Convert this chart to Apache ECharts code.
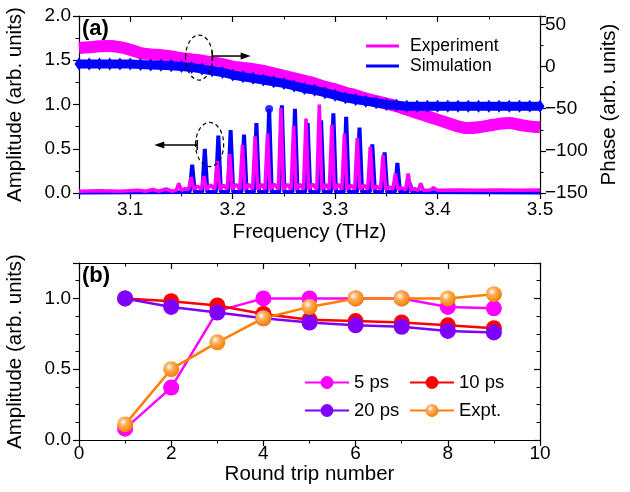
<!DOCTYPE html>
<html lang="en" style="height: 100%">
<head>
  <meta charset="utf-8">
</head>
<body style="height: 100%; margin: 0; background: #fff">
  <div id="container" style="width: 630px; height: 492px"></div>

  <script type="text/javascript" src="https://cdn.jsdelivr.net/npm/echarts@6/dist/echarts.min.js"></script>
  <script type="text/javascript">
// ---- panel (a): phase, right axis ----
var phaseFreq = [3.05, 3.06, 3.07, 3.08, 3.09, 3.10, 3.11, 3.12, 3.13, 3.14,
  3.15, 3.16, 3.17, 3.18, 3.19, 3.20, 3.21, 3.22, 3.23, 3.24,
  3.25, 3.26, 3.27, 3.28, 3.29, 3.30, 3.31, 3.32, 3.33, 3.34,
  3.35, 3.36, 3.37, 3.38, 3.39, 3.40, 3.41, 3.42, 3.43, 3.44,
  3.45, 3.46, 3.47, 3.48, 3.49, 3.50];
var expPhase = [22, 23, 24, 24.5, 23, 20, 16, 14.5, 13.5, 12,
  10, 8.5, 7, 5, 3, 0, -1.5, -3, -5, -8,
  -11, -14, -17, -20, -24, -27, -31, -34, -38, -41,
  -44, -47, -51, -55, -59, -63, -67, -71, -73, -72,
  -70, -68, -67, -69, -71, -72];
var simPhase = [3, 3, 3, 3, 3, 3, 2.5, 2, 1.5, 1,
  0, -1, -3, -5, -7, -10, -12, -14, -16, -18,
  -20, -23, -26, -28, -31, -34, -37, -39, -41, -43,
  -45, -46, -47, -47, -47, -47, -47, -47, -47, -47,
  -47, -47, -47, -47, -47, -47];

// ---- panel (a): amplitude spectra, left axis, [THz, amplitude] ----
var simSpectrum = [
  [3.05, 0.005], [3.158, 0.01], [3.1605, 0.32], [3.163, 0.01],
  [3.1703, 0.01], [3.1728, 0.50], [3.1753, 0.01],
  [3.1835, 0.01], [3.186, 0.65], [3.1885, 0.01],
  [3.1955, 0.01], [3.198, 0.71], [3.2005, 0.01],
  [3.2086, 0.01], [3.2111, 0.66], [3.2136, 0.01],
  [3.2207, 0.01], [3.2232, 0.79], [3.2257, 0.01],
  [3.2331, 0.01], [3.2356, 0.95], [3.2381, 0.01],
  [3.2455, 0.01], [3.248, 0.99], [3.2505, 0.01],
  [3.2583, 0.01], [3.2608, 0.95], [3.2633, 0.01],
  [3.2707, 0.01], [3.2732, 0.79], [3.2757, 0.01],
  [3.2838, 0.01], [3.2863, 0.82], [3.2888, 0.01],
  [3.2958, 0.01], [3.2983, 0.90], [3.3008, 0.01],
  [3.3083, 0.01], [3.3108, 0.86], [3.3133, 0.01],
  [3.3213, 0.01], [3.3238, 0.74], [3.3263, 0.01],
  [3.3338, 0.01], [3.3363, 0.55], [3.3388, 0.01],
  [3.3458, 0.01], [3.3483, 0.46], [3.3508, 0.01],
  [3.3583, 0.01], [3.3608, 0.34], [3.3633, 0.01],
  [3.3704, 0.01], [3.3729, 0.11], [3.3754, 0.01], [3.5, 0.005]
];
var simDotIndex = 20;   // the peak drawn with a dot
var expSpectrum = [
  [3.05, 0.02], [3.07, 0.025], [3.09, 0.02], [3.108, 0.03], [3.115, 0.02],
  [3.122, 0.04], [3.128, 0.02], [3.135, 0.045], [3.141, 0.02],
  [3.1449, 0.03], [3.1474, 0.11], [3.1499, 0.03], [3.1535, 0.05],
  [3.157, 0.04], [3.1595, 0.18], [3.162, 0.04], [3.1657, 0.08],
  [3.1694, 0.04], [3.1719, 0.19], [3.1744, 0.04], [3.1785, 0.09],
  [3.1825, 0.04], [3.185, 0.36], [3.1875, 0.04], [3.191, 0.09],
  [3.1946, 0.04], [3.1971, 0.44], [3.1996, 0.04], [3.2033, 0.10],
  [3.207, 0.04], [3.2095, 0.54], [3.212, 0.04], [3.2157, 0.10],
  [3.2194, 0.04], [3.2219, 0.64], [3.2244, 0.04], [3.228, 0.10],
  [3.2315, 0.04], [3.234, 0.67], [3.2365, 0.04], [3.2405, 0.10],
  [3.2446, 0.04], [3.2471, 0.96], [3.2496, 0.04], [3.2533, 0.10],
  [3.257, 0.04], [3.2595, 0.76], [3.262, 0.04], [3.2655, 0.10],
  [3.2691, 0.04], [3.2716, 0.84], [3.2741, 0.04], [3.278, 0.10],
  [3.2821, 0.04], [3.2846, 1.00], [3.2871, 0.04], [3.2907, 0.10],
  [3.2943, 0.04], [3.2968, 0.77], [3.2993, 0.04], [3.303, 0.10],
  [3.3066, 0.04], [3.3091, 0.67], [3.3116, 0.04], [3.3153, 0.09],
  [3.3191, 0.04], [3.3216, 0.62], [3.3241, 0.04], [3.328, 0.09],
  [3.3318, 0.04], [3.3343, 0.52], [3.3368, 0.04], [3.3405, 0.08],
  [3.3443, 0.04], [3.3468, 0.43], [3.3493, 0.04], [3.353, 0.07],
  [3.3563, 0.04], [3.3588, 0.22], [3.3613, 0.04], [3.365, 0.06],
  [3.3688, 0.035], [3.3713, 0.22], [3.3738, 0.035], [3.3775, 0.05],
  [3.3811, 0.03], [3.3836, 0.11], [3.3861, 0.03],
  [3.393, 0.035], [3.396, 0.06], [3.40, 0.03], [3.42, 0.035], [3.44, 0.03],
  [3.46, 0.035], [3.48, 0.03], [3.5, 0.035]
];

// ---- panel (b) ----
var roundTrip = [1, 2, 3, 4, 5, 6, 7, 8, 9];
var amp5ps  = [0.08, 0.37, 0.91, 1.00, 1.00, 1.00, 1.00, 0.94, 0.93];
var amp10ps = [1.00, 0.98, 0.95, 0.89, 0.85, 0.84, 0.83, 0.81, 0.79];
var amp20ps = [1.00, 0.94, 0.90, 0.86, 0.83, 0.81, 0.80, 0.77, 0.76];
var ampExpt = [0.11, 0.50, 0.69, 0.86, 0.94, 1.00, 1.00, 1.00, 1.03];

// annotations (data units)
var phaseRing = { f: 3.1672, v: 10.7, rf: 0.0132, rv: 26.7 };
var phaseArrow = { from: 3.180, to: 3.2176, v: 12.5 };
var ampRing = { f: 3.1775, v: 0.548, rf: 0.0137, rv: 0.249 };
var ampArrow = { from: 3.1654, to: 3.1235, v: 0.542 };

var FONT = 'Liberation Sans, Arial, sans-serif';
var MAGENTA = '#ff00ff', BLUE = '#0000ff';

function zip(xs, ys) {
  return xs.map(function (x, i) { return [x, ys[i]]; });
}

var axisLine = { onZero: false, lineStyle: { color: '#000', width: 1.2 } };
function ticks(inside) {
  return { show: true, inside: inside, length: 6, lineStyle: { color: '#000', width: 1.2 } };
}
function minor(inside, n) {
  return { show: true, splitNumber: n, length: 3.5, lineStyle: { color: '#000', width: 1 } };
}
var label = { color: '#000', fontSize: 19, fontFamily: FONT };
var nameStyle = { color: '#000', fontSize: 20.5, fontFamily: FONT };

var dom = document.getElementById('container');
var myChart = echarts.init(dom, null, { renderer: 'canvas' });

var expBall = {
  type: 'radial', x: 0.38, y: 0.35, r: 0.65,
  colorStops: [
    { offset: 0, color: '#ffffff' },
    { offset: 0.35, color: '#ffb060' },
    { offset: 1, color: '#f57f00' }
  ]
};

var option = {
  animation: false,
  backgroundColor: '#fff',
  textStyle: { fontFamily: FONT },
  grid: [
    { left: 79, right: 90, top: 16, height: 177, containLabel: false, outerBoundsMode: 'none' },
    { left: 79, right: 90, top: 263, height: 177, containLabel: false, outerBoundsMode: 'none' }
  ],
  xAxis: [
    {
      type: 'value', gridIndex: 0, min: 3.05, max: 3.5, splitNumber: 5,
      name: 'Frequency (THz)', nameLocation: 'middle', nameGap: 29, nameTextStyle: nameStyle,
      axisLine: axisLine, axisTick: ticks(false), minorTick: minor(false, 2),
      axisLabel: Object.assign({ margin: 7, showMinLabel: false,
        formatter: function (v) { return v.toFixed(1); } }, label),
      splitLine: { show: false }
    },
    {
      type: 'value', gridIndex: 0, position: 'top', min: 3.05, max: 3.5, splitNumber: 5,
      axisLine: axisLine, axisTick: ticks(true), minorTick: minor(true, 2),
      axisLabel: { show: false }, splitLine: { show: false }
    },
    {
      type: 'value', gridIndex: 1, min: 0, max: 10, interval: 2,
      name: 'Round trip number', nameLocation: 'middle', nameGap: 16, nameTextStyle: nameStyle,
      axisLine: axisLine, axisTick: ticks(false), minorTick: minor(false, 2),
      axisLabel: Object.assign({ margin: 4 }, label), splitLine: { show: false }
    },
    {
      type: 'value', gridIndex: 1, position: 'top', min: 0, max: 10, interval: 2,
      axisLine: axisLine, axisTick: ticks(true), minorTick: minor(true, 2),
      axisLabel: { show: false }, splitLine: { show: false }
    }
  ],
  yAxis: [
    {
      type: 'value', gridIndex: 0, min: 0, max: 2, interval: 0.5,
      name: 'Amplitude (arb. units)', nameLocation: 'middle', nameGap: 53, nameRotate: 90,
      nameTextStyle: nameStyle,
      axisLine: axisLine, axisTick: ticks(false), minorTick: minor(false, 2),
      axisLabel: Object.assign({ margin: 8, formatter: function (v) { return v.toFixed(1); } }, label),
      splitLine: { show: false }
    },
    {
      type: 'value', gridIndex: 0, position: 'right', min: -150, max: 60, interval: 50,
      name: 'Phase (arb. units)', nameLocation: 'middle', nameGap: 55, nameRotate: 90,
      nameTextStyle: nameStyle,
      axisLine: axisLine, axisTick: ticks(false), minorTick: minor(false, 2),
      axisLabel: Object.assign({ margin: 5, showMaxLabel: false,
        formatter: function (v) { return String(v).replace('-', '\u2212'); } }, label),
      splitLine: { show: false }
    },
    {
      type: 'value', gridIndex: 1, min: 0, max: 1.25, interval: 0.5,
      name: 'Amplitude (arb. units)', nameLocation: 'middle', nameGap: 53, nameRotate: 90,
      nameTextStyle: nameStyle,
      axisLine: axisLine, axisTick: ticks(false), minorTick: minor(false, 4),
      axisLabel: Object.assign({ margin: 8, showMaxLabel: false,
        formatter: function (v) { return v.toFixed(1); } }, label),
      splitLine: { show: false }
    },
    {
      type: 'value', gridIndex: 1, position: 'right', min: 0, max: 1.25, interval: 0.5,
      axisLine: axisLine, axisTick: ticks(true), minorTick: minor(true, 4),
      axisLabel: { show: false }, splitLine: { show: false }
    }
  ],
  legend: [
    {
      data: ['Experiment', 'Simulation'], orient: 'vertical', left: 361, top: 32,
      icon: 'rect', itemWidth: 33, itemHeight: 3, itemGap: 2,
      textStyle: { color: '#000', fontSize: 17.5, fontFamily: FONT, padding: [0, 0, 0, 6] }
    },
    {
      data: ['5 ps', '20 ps'], orient: 'vertical', left: 299, top: 368,
      itemWidth: 44, itemHeight: 16, itemGap: 9,
      textStyle: { color: '#000', fontSize: 18.5, fontFamily: FONT }
    },
    {
      data: ['10 ps', 'Expt.'], orient: 'vertical', left: 404, top: 368,
      itemWidth: 44, itemHeight: 16, itemGap: 9,
      textStyle: { color: '#000', fontSize: 18.5, fontFamily: FONT }
    }
  ],
  series: [
    {
      name: 'Experiment phase', type: 'line', xAxisIndex: 0, yAxisIndex: 1,
      data: zip(phaseFreq, expPhase), symbol: 'none', smooth: 0.3,
      lineStyle: { color: MAGENTA, width: 12 }, itemStyle: { color: MAGENTA }, z: 2
    },
    {
      name: 'Simulation phase', type: 'line', xAxisIndex: 0, yAxisIndex: 1,
      data: zip(phaseFreq, simPhase), symbol: 'diamond', symbolSize: [9, 13],
      lineStyle: { color: BLUE, width: 9 }, itemStyle: { color: BLUE }, z: 3
    },
    {
      name: 'Simulation', type: 'line', xAxisIndex: 0, yAxisIndex: 0,
      data: simSpectrum, symbol: 'none',
      lineStyle: { color: BLUE, width: 4 }, itemStyle: { color: BLUE }, z: 4
    },
    {
      name: 'Experiment', type: 'line', xAxisIndex: 0, yAxisIndex: 0,
      data: expSpectrum, symbol: 'none',
      lineStyle: { color: MAGENTA, width: 3.5 }, itemStyle: { color: MAGENTA }, z: 5
    },
    {
      name: 'dot', type: 'scatter', xAxisIndex: 0, yAxisIndex: 0,
      data: [simSpectrum[simDotIndex]], symbolSize: 8,
      itemStyle: { color: BLUE }, z: 4
    },
    {
      name: '5 ps', type: 'line', xAxisIndex: 2, yAxisIndex: 2,
      data: zip(roundTrip, amp5ps), symbol: 'circle', symbolSize: 16,
      lineStyle: { color: MAGENTA, width: 2.5 }, itemStyle: { color: MAGENTA }
    },
    {
      name: '10 ps', type: 'line', xAxisIndex: 2, yAxisIndex: 2,
      data: zip(roundTrip, amp10ps), symbol: 'circle', symbolSize: 16,
      lineStyle: { color: '#ff0000', width: 2.5 }, itemStyle: { color: '#ff0000' }
    },
    {
      name: '20 ps', type: 'line', xAxisIndex: 2, yAxisIndex: 2,
      data: zip(roundTrip, amp20ps), symbol: 'circle', symbolSize: 16,
      lineStyle: { color: '#7f00ff', width: 2.5 }, itemStyle: { color: '#7f00ff' }
    },
    {
      name: 'Expt.', type: 'line', xAxisIndex: 2, yAxisIndex: 2,
      data: zip(roundTrip, ampExpt), symbol: 'circle', symbolSize: 16,
      lineStyle: { color: '#ff8000', width: 2.5 }, itemStyle: { color: expBall }
    }
  ],
  graphic: [
    { type: 'text', left: 82, top: 18, style: { text: '(a)', font: 'bold 22px ' + FONT, fill: '#000' } },
    { type: 'text', left: 82, top: 265, style: { text: '(b)', font: 'bold 22px ' + FONT, fill: '#000' } }
  ]
};

myChart.setOption(option);

// dashed rings and arrows, placed from data coordinates
function px(f) { return myChart.convertToPixel({ xAxisIndex: 0 }, f); }
function pyL(v) { return myChart.convertToPixel({ yAxisIndex: 0 }, v); }
function pyR(v) { return myChart.convertToPixel({ yAxisIndex: 1 }, v); }

function ring(m, py) {
  var cx = px(m.f), cy = py(m.v);
  return {
    type: 'ellipse',
    shape: { cx: cx, cy: cy, rx: px(m.f + m.rf) - cx, ry: cy - py(m.v + m.rv) },
    style: { fill: 'none', stroke: '#000', lineWidth: 1.2, lineDash: [4, 3] }, z: 20
  };
}
function arrow(a, py) {
  var x1 = px(a.from), x2 = px(a.to), y = py(a.v), dir = x2 > x1 ? 1 : -1;
  return [
    { type: 'line', shape: { x1: x1, y1: y, x2: x2 - dir * 7, y2: y },
      style: { stroke: '#000', lineWidth: 1.5 }, z: 20 },
    { type: 'line', shape: { x1: x1, y1: y - 5, x2: x1, y2: y + 5 },
      style: { stroke: '#000', lineWidth: 1.5 }, z: 20 },
    { type: 'polygon', shape: { points: [[x2, y], [x2 - dir * 10, y - 3.5], [x2 - dir * 10, y + 3.5]] },
      style: { fill: '#000' }, z: 20 }
  ];
}

var extras = option.graphic.concat(
  [ring(phaseRing, pyR), ring(ampRing, pyL)],
  arrow(phaseArrow, pyR), arrow(ampArrow, pyL)
);
myChart.setOption({ graphic: extras });

window.addEventListener('resize', myChart.resize);
  </script>
</body>
</html>
